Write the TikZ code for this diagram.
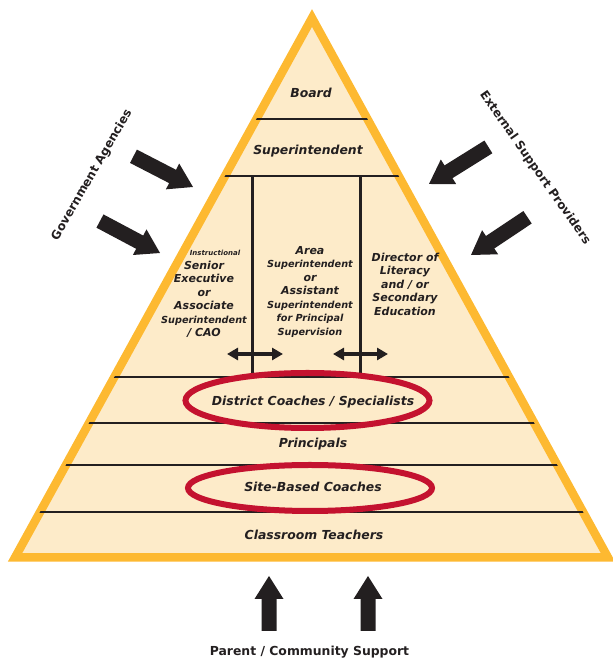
\documentclass[tikz,border=0pt]{standalone}
\usepackage{fontspec}
\setmainfont{DejaVu Sans}
\usetikzlibrary{arrows.meta}
\definecolor{peach}{HTML}{FDEBC9}
\definecolor{gold}{HTML}{FDB931}
\definecolor{inkc}{HTML}{231F20}
\definecolor{redc}{HTML}{C4122F}
\tikzset{
  lbl/.style={inner sep=0pt, anchor=base, text=inkc, font=\fontsize{12.4}{14}\selectfont\bfseries\itshape},
  col/.style={inner sep=0pt, align=center, text=inkc, font=\fontsize{11}{13.5}\selectfont\bfseries\itshape},
  side/.style={inner sep=0pt, text=inkc, font=\fontsize{12}{14}\selectfont\bfseries},
  tierline/.style={draw=inkc, line width=2.6pt},
  ring/.style={draw=redc, line width=6pt},
  dbl/.style={draw=inkc, line width=3.3pt, {Triangle[length=11pt,width=12pt]}-{Triangle[length=11pt,width=12pt]}},
  pics/blockarrow/.style={code={
    \fill[inkc] (-#1,-7.5) -- (-23,-7.5) -- (-23,-14.5) -- (0,0) -- (-23,14.5) -- (-23,7.5) -- (-#1,7.5) -- cycle;
  }}
}
\newcommand{\sm}{\fontsize{9.7}{13.5}\selectfont}
\begin{document}
\begin{tikzpicture}[x=1pt,y=1pt]
\useasboundingbox (0,0) rectangle (612,660);
% pyramid
\coordinate (apex) at (312,642);
\coordinate (bl) at (15,102.5);
\coordinate (br) at (608,102.5);
\fill[peach] (apex) -- (br) -- (bl) -- cycle;
\draw[gold, line width=8.5pt, line join=miter, miter limit=10] (apex) -- (br) -- (bl) -- cycle;
\begin{scope}
\clip (apex) -- (br) -- (bl) -- cycle;
\draw[tierline] (0,541) -- (612,541);
\draw[tierline] (0,484) -- (612,484);
\draw[tierline] (0,283) -- (612,283);
\draw[tierline] (0,237) -- (612,237);
\draw[tierline] (0,195) -- (612,195);
\draw[tierline] (0,148) -- (612,148);
\end{scope}
\coordinate (v1t) at (252.5,484); \coordinate (v1b) at (252.5,283);
\coordinate (v2t) at (360.5,484); \coordinate (v2b) at (360.5,283);
\draw[tierline] (v1t) -- (v1b);
\draw[tierline] (v2t) -- (v2b);
% double arrows
\coordinate (d1a) at (227,306); \coordinate (d1b) at (283,306);
\coordinate (d2a) at (333,306); \coordinate (d2b) at (388,306);
\draw[dbl] (d1a) -- (d1b);
\draw[dbl] (d2a) -- (d2b);
% ellipses
\draw[ring] (307.5,259.5) ellipse [x radius=122, y radius=27.5];
\draw[ring] (310,172) ellipse [x radius=122, y radius=23];
% labels
\node[lbl] (board) at (311,562) {Board};
\node[lbl] (supt) at (308,505) {Superintendent};
\node[lbl] (district) at (313,254.3) {District Coaches / Specialists};
\node[lbl] (principals) at (313,212.7) {Principals};
\node[lbl] (site) at (313,168.3) {Site-Based Coaches};
\node[lbl] (teachers) at (314,120) {Classroom Teachers};
\node[inner sep=0pt, anchor=base, text=inkc, font=\fontsize{12.4}{14}\selectfont\bfseries] (parent) at (309.5,5) {Parent / Community Support};
% columns
\node[inner sep=0pt, text=inkc, font=\fontsize{7}{8}\selectfont\bfseries\itshape] (instr) at (215,407) {Instructional};
\node[col] (left) at (204,360.5) {Senior\\Executive\\or\\Associate\\{\sm Superintendent}\\/ CAO};
\node[col] (mid) at (310,368) {Area\\{\sm Superintendent}\\or\\Assistant\\{\sm Superintendent}\\{\sm for Principal}\\{\sm Supervision}};
\node[col] (right) at (405,376) {Director of\\Literacy\\and / or\\Secondary\\Education};
% side labels
\node[side, rotate=60] (gov) at (92,485) {Government Agencies};
\node[side, rotate=-55] (ext) at (535,492) {External Support Providers};
% block arrows
\pic[rotate=-27.3] at (193,473) {blockarrow=67};
\pic[rotate=-28] at (160,407) {blockarrow=68};
\pic[rotate=212] at (429,476) {blockarrow=70};
\pic[rotate=213.7] at (471,405) {blockarrow=68};
\pic[rotate=90] at (269,84) {blockarrow=55};
\pic[rotate=90] at (368,84) {blockarrow=55};
\end{tikzpicture}
\end{document}
